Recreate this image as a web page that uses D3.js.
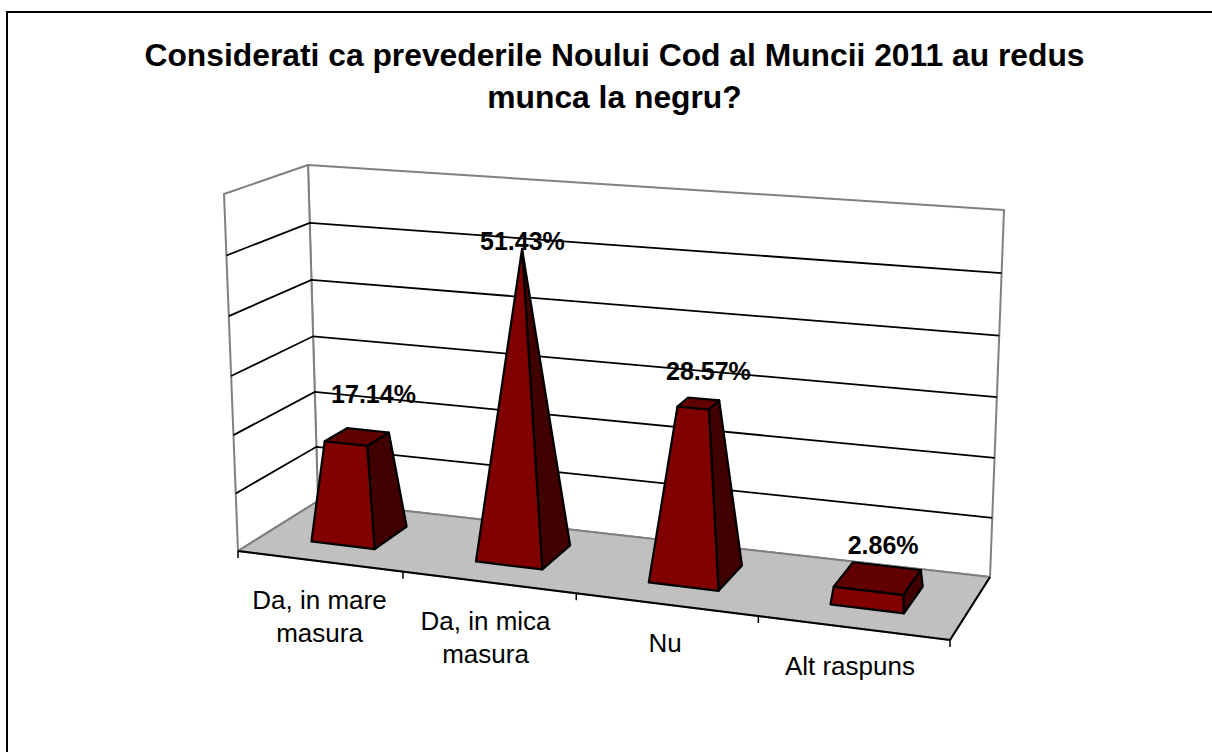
<!DOCTYPE html>
<html>
<head>
<meta charset="utf-8">
<script src="https://cdn.jsdelivr.net/npm/d3@7"></script>
<style>
  html, body { margin: 0; padding: 0; background: #fff; }
  svg { display: block; }
  text { font-family: "Liberation Sans", Arial, sans-serif; fill: #000; }
</style>
</head>
<body>
<script>
const titleLines = ["Considerati ca prevederile Noului Cod al Muncii 2011 au redus", "munca la negru?"];
const categories = ["Da, in mare masura", "Da, in mica masura", "Nu", "Alt raspuns"];
const categoryLines = [["Da, in mare", "masura"], ["Da, in mica", "masura"], ["Nu"], ["Alt raspuns"]];
const values = [17.14, 51.43, 28.57, 2.86];
const valueLabels = ["17.14%", "51.43%", "28.57%", "2.86%"];
const yTicks = [0, 10, 20, 30, 40, 50, 60];

const W = 1212, H = 752;

// screen corners of the 3d box
const A = [238, 551], B = [950, 640], C = [990, 577], D = [318, 501];
const G = [224, 194], Hh = [972, 248], F = [1004, 210], E = [308, 165];

const xBand = d3.scaleBand().domain(categories).range([0, 1]).paddingInner(0.61).paddingOuter(0.305);
const yScale = d3.scaleLinear().domain([0, 60]).range([0, 1]);
const zScale = d3.scaleLinear().domain([0, 1]).range([0.31, 0.744]);

const lerp = (p, q, t) => [p[0] + (q[0] - p[0]) * t, p[1] + (q[1] - p[1]) * t];
const perspX = 1.105, perspY = 1.04;

// t along categories, v value 0..1, z depth 0..1
function project(t, v, z) {
  const f = t / (t + (1 - t) * perspX);
  const g = v / (v + (1 - v) * perspY);
  const bottom = lerp(lerp(A, B, f), lerp(D, C, f), z);
  const top = lerp(lerp(G, Hh, f), lerp(E, F, f), z);
  return lerp(bottom, top, g);
}

const svg = d3.select("body").append("svg").attr("width", W).attr("height", H);
const poly = d3.line();

function face(pts, fill, stroke, sw) {
  svg.append("path")
    .attr("d", poly(pts) + "Z")
    .attr("fill", fill)
    .attr("stroke", stroke)
    .attr("stroke-width", sw)
    .attr("stroke-linejoin", "round");
}

// chart frame, only top and left are inside the picture
svg.append("path")
  .attr("d", poly([[7, H], [7, 12], [W, 12]]))
  .attr("fill", "none").attr("stroke", "#000").attr("stroke-width", 2);

svg.selectAll(".title").data(titleLines).join("text")
  .attr("class", "title")
  .attr("x", 614.5)
  .attr("y", (d, i) => 66 + i * 42)
  .attr("text-anchor", "middle")
  .style("font-size", "31.8px")
  .style("font-weight", "bold")
  .text(d => d);

// walls and floor
face([project(0, 0, 1), project(1, 0, 1), project(1, 1, 1), project(0, 1, 1)], "#fff", "#808080", 2);
face([project(0, 0, 0), project(0, 0, 1), project(0, 1, 1), project(0, 1, 0)], "#fff", "#808080", 2);
face([project(0, 0, 0), project(1, 0, 0), project(1, 0, 1), project(0, 0, 1)], "#c0c0c0", "#808080", 2);

// gridlines
yTicks.slice(1, -1).forEach(tick => {
  const v = yScale(tick);
  svg.append("path")
    .attr("d", poly([project(0, v, 0), project(0, v, 1), project(1, v, 1)]))
    .attr("fill", "none")
    .attr("stroke", "#000")
    .attr("stroke-width", 1.8);
});

// front and right floor edges
svg.append("path")
  .attr("d", poly([project(0, 0, 0), project(1, 0, 0), project(1, 0, 1)]))
  .attr("fill", "none").attr("stroke", "#000").attr("stroke-width", 2);

// category ticks
d3.range(categories.length + 1).forEach(i => {
  const p = project(i / categories.length, 0, 0);
  svg.append("line")
    .attr("x1", p[0]).attr("y1", p[1])
    .attr("x2", p[0]).attr("y2", p[1] + 7)
    .attr("stroke", "#000").attr("stroke-width", 1.5);
});

// pyramid bars, cut off at the value
const vMax = d3.max(values);
const labelShift = [[16.6, -34], [0.4, 1], [10, -23.6], [5.6, -24.4]];
const catShift = [0, -3, -1, -3];

// bars first, so the value labels sit on top of every mark
const labelLayer = [];
categories.forEach((c, i) => {
  const t0 = xBand(c), t1 = t0 + xBand.bandwidth();
  const tm = (t0 + t1) / 2, zm = zScale(0.5);
  const s = 1 - values[i] / vMax;
  const v = yScale(values[i]);
  const tA = tm - (tm - t0) * s, tB = tm + (tm - t0) * s;
  const z0 = zScale(0), z1 = zScale(1);
  const zA = zm - (zm - z0) * s, zB = zm + (z1 - zm) * s;

  face([project(t1, 0, z0), project(t1, 0, z1), project(tB, v, zB), project(tB, v, zA)], "#400000", "#000", 2.2);
  face([project(t0, 0, z0), project(t1, 0, z0), project(tB, v, zA), project(tA, v, zA)], "#800000", "#000", 2.2);
  if (s > 0) {
    face([project(tA, v, zA), project(tB, v, zA), project(tB, v, zB), project(tA, v, zB)], "#600000", "#000", 2.2);
  }
  labelLayer.push(project(tm, v, zm));
});

categories.forEach((c, i) => {
  const top = labelLayer[i];
  svg.append("text")
    .attr("x", top[0] + labelShift[i][0])
    .attr("y", top[1] + labelShift[i][1])
    .attr("text-anchor", "middle")
    .style("font-size", "25px")
    .style("font-weight", "bold")
    .text(valueLabels[i]);

  const foot = project(xBand(c) + xBand.bandwidth() / 2, 0, 0);
  svg.append("text")
    .attr("text-anchor", "middle")
    .style("font-size", "26px")
    .selectAll("tspan").data(categoryLines[i]).join("tspan")
    .attr("x", foot[0] + catShift[i])
    .attr("y", (d, j) => foot[1] + 47.5 + j * 33.5)
    .text(d => d);
});
</script>
</body>
</html>
